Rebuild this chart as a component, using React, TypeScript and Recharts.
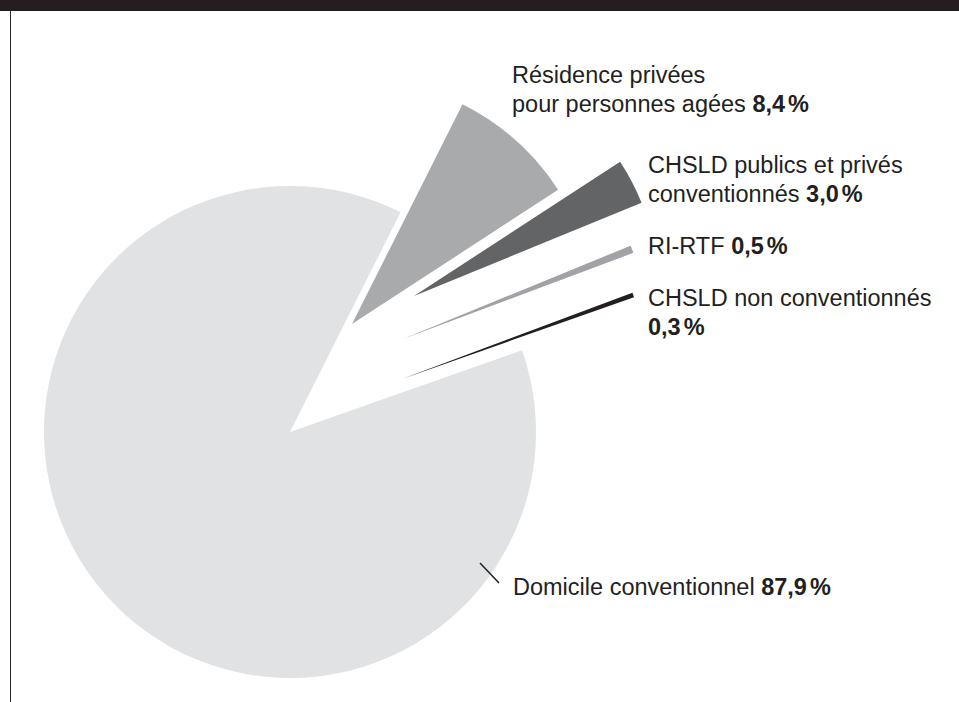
import React from 'react';
import { PieChart, Pie, Cell } from 'recharts';

const categories = ['Domicile conventionnel', 'CHSLD non conventionnés', 'RI-RTF', 'CHSLD publics et privés conventionnés', 'Résidence privées pour personnes agées'];
const shares = [87.9, 0.3, 0.5, 3.0, 8.4];
const colors = ['#e1e2e3', '#231f20', '#a0a2a5', '#636466', '#a8aaac'];
// label lines (text before the bold value on the last line)
const labelLines: string[][] = [
  ['Domicile conventionnel'],
  ['CHSLD non conventionnés', ''],
  ['RI-RTF'],
  ['CHSLD publics et privés', 'conventionnés'],
  ['Résidence privées', 'pour personnes agées'],
];

const data = categories.map((name, i) => ({ name, value: shares[i] }));

// layout: each exploded slice has its own apex
const apex = [
  { cx: 290, cy: 432 },
  { cx: 402, cy: 379 },
  { cx: 403, cy: 339 },
  { cx: 414, cy: 296 },
  { cx: 352, cy: 324 },
];
const labelPos = [
  { x: 513, y: 595 },
  { x: 648, y: 306 },
  { x: 648, y: 254 },
  { x: 648, y: 173 },
  { x: 512, y: 83 },
];

const W = 959;
const H = 702;
const START = 63.3;
const INK = '#231f20';
const FONT = '"Liberation Sans", Arial, Helvetica, sans-serif';

const fmt = (v: number) => v.toFixed(1).replace('.', ',');

export default function App() {
  return (
    <div style={{ position: 'absolute', left: 0, top: 0, width: W, height: H, background: '#fff', overflow: 'hidden' }}>
      <div style={{ position: 'absolute', left: 0, top: 0, width: W, height: 11, background: INK }} />
      <div style={{ position: 'absolute', left: 9.5, top: 11, width: 1.5, height: H - 11, background: '#2a2a2a' }} />
      <div style={{ position: 'absolute', left: 0, top: 0 }}>
        <PieChart width={W} height={H} margin={{ top: 0, right: 0, bottom: 0, left: 0 }}>
          {data.map((_, k) => (
            <Pie
              key={k}
              data={data}
              dataKey="value"
              nameKey="name"
              cx={apex[k].cx}
              cy={apex[k].cy}
              innerRadius={0}
              outerRadius={246}
              startAngle={START}
              endAngle={START + 360}
              stroke="none"
              isAnimationActive={false}
              legendType="none"
            >
              {data.map((d, i) => (
                <Cell key={d.name} fill={i === k ? colors[i] : 'none'} stroke="none" />
              ))}
            </Pie>
          ))}
        </PieChart>
      </div>
      <svg width={W} height={H} style={{ position: 'absolute', left: 0, top: 0 }}>
        <line x1={480} y1={563} x2={499} y2={583} stroke={INK} strokeWidth={1.5} />
        {data.map((d, i) => {
          const lines = labelLines[i];
          const p = labelPos[i];
          return (
            <text key={d.name} x={p.x} y={p.y} fontFamily={FONT} fontSize={23.5} fill={INK}>
              {lines.map((ln, j) => {
                const last = j === lines.length - 1;
                return (
                  <tspan key={j} x={p.x} dy={j === 0 ? 0 : 29}>
                    {ln}
                    {last ? (
                      <>
                        {ln ? ' ' : ''}
                        <tspan fontWeight="bold">{fmt(d.value)}</tspan>
                        <tspan fontWeight="bold" dx={3}>%</tspan>
                      </>
                    ) : null}
                  </tspan>
                );
              })}
            </text>
          );
        })}
      </svg>
    </div>
  );
}
